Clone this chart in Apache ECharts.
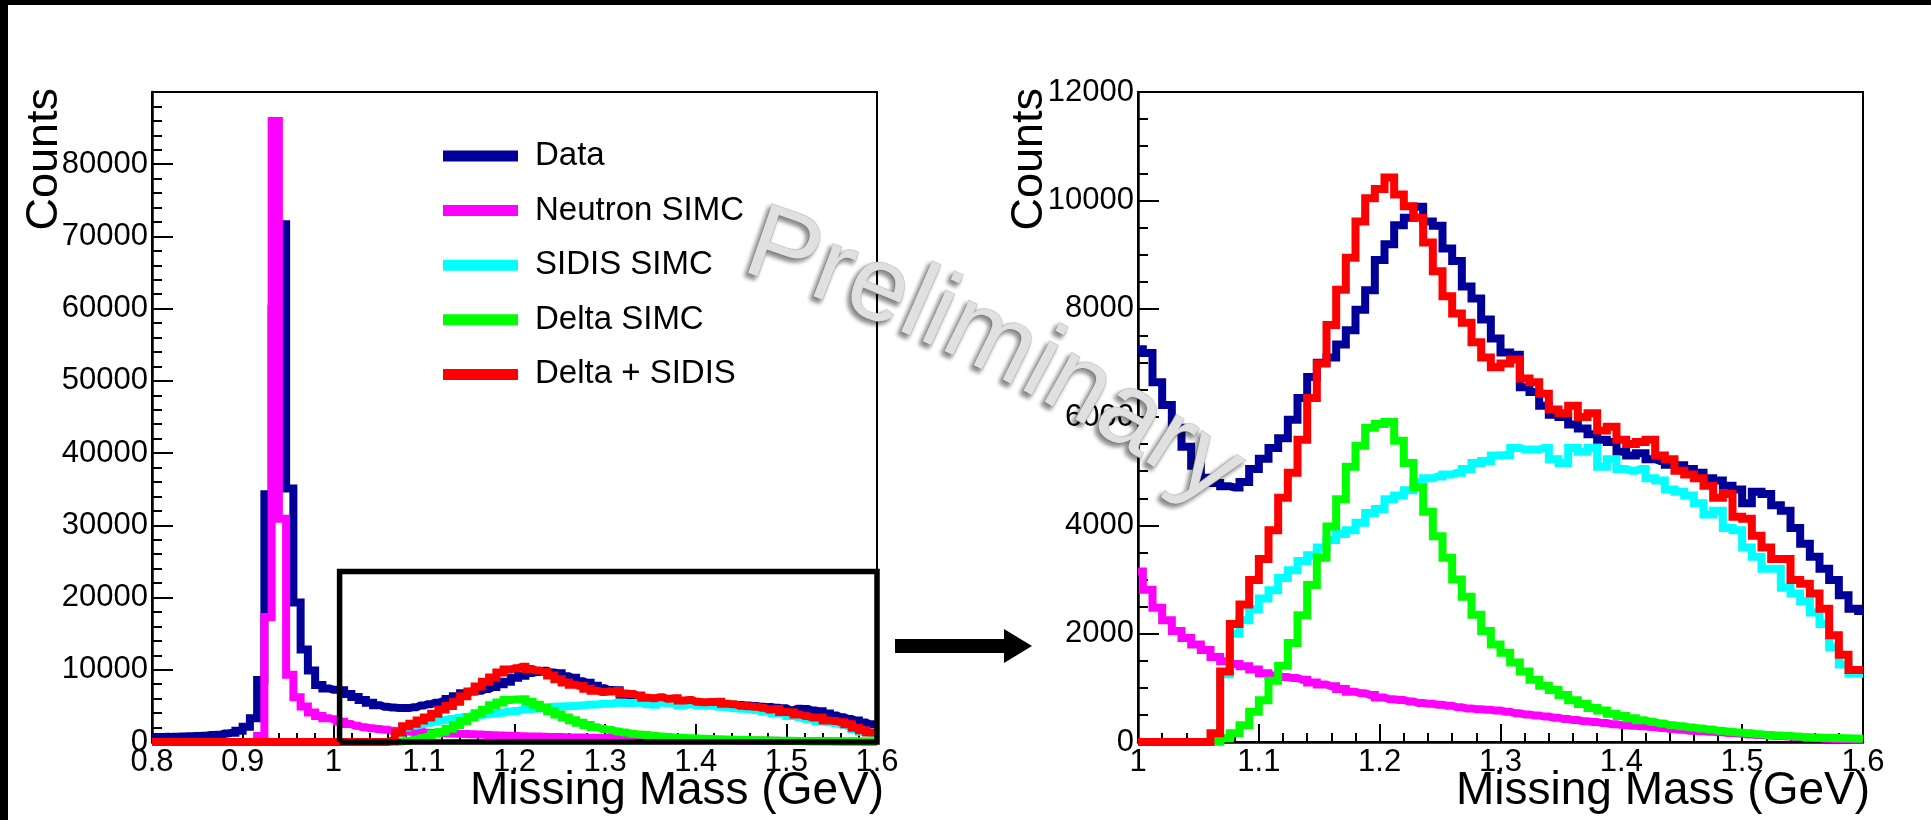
<!DOCTYPE html>
<html>
<head>
<meta charset="utf-8">
<title>Missing Mass</title>
<script src="https://cdn.jsdelivr.net/npm/echarts@6/dist/echarts.min.js"></script>
<style>
  html, body { margin: 0; padding: 0; background: #ffffff; }
  #chart { width: 1931px; height: 820px; }
</style>
</head>
<body>
<div id="chart"></div>
<script>
// Histogram binning: bin centres from 0.800 GeV in steps of 0.008 GeV (101 bins)
const binStart = 0.8;
const binWidth = 0.008;

// Counts per bin, one array per histogram
const dataCounts = [
  690, 700, 710, 730, 750, 790, 830, 870, 960, 1020,
  1180, 1270, 1570, 2120, 3280, 8600, 34300, 60000, 71700, 35100,
  19300, 12800, 9900, 7900, 7400,
  7250, 7180, 6640, 6220, 5800, 5450, 5100, 4880, 4780, 4720,
  4700, 4800, 5040, 5230, 5430, 5610, 5950, 6350, 6740, 7000,
  7100, 7340, 7600, 7980, 8340, 8900, 9190, 9540, 9680, 9880,
  9610, 9530, 9110, 8880, 8410, 8190, 7800, 7450, 7190, 7150,
  6550, 6460, 6210, 6040, 6000, 5860, 5790, 5680, 5580, 5540,
  5360, 5290, 5330, 5220, 5190, 5120, 5110, 5040, 4970, 4870,
  4830, 4730, 4660, 4410, 4620, 4580, 4370, 4270, 3950, 3660,
  3420, 3200, 2990, 2710, 2460, 2420
];

const neutronSimc = [
  0, 0, 0, 0, 0, 0, 0, 0, 0, 0,
  0, 0, 0, 0, 0, 830, 17300, 86000, 30900, 9300,
  6200, 4900, 4100, 3600, 3300,
  3150, 2810, 2480, 2250, 2050, 1920, 1800, 1700, 1570, 1490,
  1440, 1400, 1340, 1270, 1230, 1200, 1180, 1150, 1100, 1060,
  1030, 980, 930, 900, 870, 820, 790, 775, 750, 720,
  705, 690, 670, 640, 620, 605, 595, 580, 560, 530,
  510, 490, 470, 450, 425, 405, 385, 370, 350, 330,
  315, 300, 290, 275, 260, 240, 225, 210, 200, 190,
  180, 165, 155, 140, 130, 120, 110, 100, 90, 80,
  70, 60, 55, 50, 45, 40
];

const sidisSimc = [
  0, 0, 0, 0, 0, 0, 0, 0, 0, 0,
  0, 0, 0, 0, 0, 0, 0, 0, 0, 0,
  0, 0, 0, 0, 0,
  0, 0, 0, 0, 0, 0, 0, 0, 0, 1250,
  2000, 2250, 2450, 2650, 2800, 3030, 3170, 3340, 3450, 3590,
  3730, 3840, 3910, 4050, 4230, 4300, 4480, 4550, 4650, 4800,
  4870, 4900, 4940, 4970, 5040, 5150, 5190, 5290, 5300, 5430,
  5400, 5400, 5430, 5220, 5150, 5430, 5360, 5430, 5080, 5220,
  5040, 5010, 5040, 4870, 4830, 4660, 4620, 4550, 4410, 4200,
  4270, 3950, 3910, 3590, 3420, 3200, 3200, 2850, 2740, 2600,
  2390, 2180, 1750, 1430, 1260, 1260
];

const deltaSimc = [
  0, 0, 0, 0, 0, 0, 0, 0, 0, 0,
  0, 0, 0, 0, 0, 0, 0, 0, 0, 0,
  0, 0, 0, 0, 0,
  0, 0, 0, 0, 0, 0, 0, 0, 20, 70,
  160, 310, 560, 770, 1130, 1410, 1830, 2340, 2900, 3400,
  3980, 4480, 5080, 5470, 5800, 5870, 5910, 5560, 5150, 4700,
  4250, 3800, 3400, 3000, 2680, 2350, 2050, 1800, 1650, 1470,
  1300, 1150, 1040, 960, 870, 770, 700, 630, 580, 520,
  480, 440, 400, 370, 340, 310, 290, 270, 250, 230,
  210, 190, 175, 160, 145, 130, 120, 110, 100, 90,
  85, 80, 75, 70, 65, 60
];

const deltaPlusSidis = [
  0, 0, 0, 0, 0, 0, 0, 0, 0, 0,
  0, 0, 0, 0, 0, 0, 0, 0, 0, 0,
  0, 0, 0, 0, 0,
  0, 0, 0, 0, 0, 0, 0, 0, 160, 1300,
  2180, 2540, 2990, 3380, 3910, 4510, 4970, 5580, 6350, 6990,
  7700, 8350, 8940, 9610, 10040, 10210, 10420, 10110, 9890, 9680,
  9220, 8690, 8230, 7910, 7740, 7380, 7100, 6920, 6990, 7060,
  6710, 6640, 6430, 6140, 6070, 6210, 6000, 6070, 5750, 5820,
  5580, 5500, 5540, 5580, 5290, 5220, 5010, 4940, 4870, 4730,
  4510, 4580, 4160, 4120, 3810, 3590, 3380, 3380, 2990, 2920,
  2740, 2460, 1970, 1610, 1330, 1330
];

const legendNames = ['Data', 'Neutron SIMC', 'SIDIS SIMC', 'Delta SIMC', 'Delta + SIDIS'];
const histColors = ['#000099', '#ff00ff', '#00ffff', '#00ff00', '#ff0000'];
const histValues = [dataCounts, neutronSimc, sidisSimc, deltaSimc, deltaPlusSidis];

// Zoom window outlined on the full-range panel (mass, counts)
const zoomWindowMass = [1.007, 1.6];
const zoomWindowCounts = [0, 23600];

const massBins = dataCounts.map((_, i) => +(binStart + i * binWidth).toFixed(3));

const FONT = '"Liberation Sans", Arial, Helvetica, sans-serif';
const TICK_FONT_SIZE = 31;

function histData(values, fromMass) {
  return massBins
    .map((m, i) => [m, values[i]])
    .filter(p => p[0] >= fromMass - 1e-9);
}

function massAxis(gridIndex, min, max) {
  return {
    type: 'value', gridIndex, min, max, interval: 0.1,
    axisLine: { show: true, onZero: false, lineStyle: { color: '#000', width: 2.5 } },
    axisTick: { show: true, inside: true, length: 18, lineStyle: { color: '#000', width: 2 } },
    minorTick: { show: true, splitNumber: 5, length: 9, lineStyle: { color: '#000', width: 2 } },
    splitLine: { show: false }, minorSplitLine: { show: false },
    axisLabel: {
      show: true, margin: 5, color: '#000', fontSize: TICK_FONT_SIZE, fontFamily: FONT,
      showMinLabel: true, showMaxLabel: true,
      formatter: v => String(Math.round(v * 10) / 10)
    }
  };
}

function countsAxis(gridIndex, max, interval, minorSplit, showMax) {
  return {
    type: 'value', gridIndex, min: 0, max, interval,
    axisLine: { show: true, onZero: false, lineStyle: { color: '#000', width: 2.5 } },
    axisTick: { show: true, inside: true, length: 21, lineStyle: { color: '#000', width: 2 } },
    minorTick: { show: true, splitNumber: minorSplit, length: 10, lineStyle: { color: '#000', width: 2 } },
    splitLine: { show: false }, minorSplitLine: { show: false },
    axisLabel: {
      show: true, margin: 4, color: '#000', fontSize: TICK_FONT_SIZE, fontFamily: FONT,
      showMinLabel: true, showMaxLabel: showMax,
      formatter: v => String(Math.round(v))
    }
  };
}

const series = [];
[[0, binStart], [1, 1.0]].forEach(([panel, fromMass]) => {
  legendNames.forEach((name, i) => {
    series.push({
      type: 'line', name,
      xAxisIndex: panel, yAxisIndex: panel,
      data: histData(histValues[i], fromMass),
      step: 'middle',
      symbol: 'none', showSymbol: false,
      color: histColors[i],
      itemStyle: { color: histColors[i] },
      lineStyle: { color: histColors[i], width: 8, join: 'miter', cap: 'butt' },
      emphasis: { disabled: true },
      silent: true, animation: false,
      z: 2 + i
    });
  });
});

// Outline of the zoomed region
series.push({
  type: 'line', name: 'zoom window',
  xAxisIndex: 0, yAxisIndex: 0,
  data: [
    [zoomWindowMass[0], zoomWindowCounts[0]],
    [zoomWindowMass[0], zoomWindowCounts[1]],
    [zoomWindowMass[1], zoomWindowCounts[1]],
    [zoomWindowMass[1], zoomWindowCounts[0]],
    [zoomWindowMass[0], zoomWindowCounts[0]]
  ],
  symbol: 'none', showSymbol: false, clip: false,
  lineStyle: { color: '#000', width: 5.5, join: 'miter' },
  emphasis: { disabled: true }, silent: true, animation: false, z: 20
});

const grids = [
  { left: 152, top: 92, width: 725, height: 650 },
  { left: 1138, top: 92, width: 725, height: 650 }
];

const axisTitles = [];
grids.forEach((g, idx) => {
  // vertical counts title, ends at the top of the frame
  axisTitles.push({
    type: 'text', z: 50,
    x: idx === 0 ? 45 : 1030, y: 88, rotation: Math.PI / 2,
    style: { text: 'Counts', fontSize: 45, fontFamily: FONT, fill: '#000', align: 'right', verticalAlign: 'middle' }
  });
  // mass title, right-aligned under the axis
  axisTitles.push({
    type: 'text', z: 50,
    x: g.left + g.width + 7, y: 791,
    style: { text: 'Missing Mass (GeV)', fontSize: 46, fontFamily: FONT, fill: '#000', align: 'right', verticalAlign: 'middle' }
  });
});

// "Preliminary" stamp, set letter by letter along a gently bending baseline
function stampLetters(word, fontSize, start, angleFrom, angleTo) {
  const ctx = document.createElement('canvas').getContext('2d');
  ctx.font = fontSize + 'px ' + FONT;
  const total = ctx.measureText(word).width;
  const angleAt = s => angleFrom + (angleTo - angleFrom) * s / total;
  const pointAt = s => {
    let x = start[0], y = start[1];
    const step = 1;
    for (let t = 0; t < s; t += step) {
      const a = angleAt(t + step / 2);
      const d = Math.min(step, s - t);
      x += Math.cos(a) * d;
      y += Math.sin(a) * d;
    }
    return [x, y];
  };
  const out = [];
  let s = 0;
  for (const ch of word) {
    const w = ctx.measureText(ch).width;
    const mid = s + w / 2;
    const a = angleAt(mid);
    const p = pointAt(mid);
    const lift = 0.33 * fontSize;
    out.push({
      type: 'text', z: 100,
      x: p[0] + Math.sin(a) * lift, y: p[1] - Math.cos(a) * lift,
      rotation: -a,
      style: {
        text: ch, fontSize, fontFamily: FONT,
        fill: '#e0e0e0', stroke: '#cacaca', lineWidth: 1.5,
        align: 'center', verticalAlign: 'middle',
        textShadowColor: 'rgba(0,0,0,0.45)', textShadowBlur: 4,
        textShadowOffsetX: -3, textShadowOffsetY: 3
      }
    });
    s += w;
  }
  return out;
}

const stamp = stampLetters('Preliminary', 106, [738, 276], 18 * Math.PI / 180, 35 * Math.PI / 180);

const chart = echarts.init(document.getElementById('chart'), null, { renderer: 'canvas', width: 1931, height: 820 });

chart.setOption({
  backgroundColor: '#ffffff',
  animation: false,
  grid: grids.map(g => Object.assign({
    show: true, borderColor: '#000', borderWidth: 2, backgroundColor: 'transparent',
    containLabel: false, outerBoundsMode: 'none'
  }, g)),
  xAxis: [massAxis(0, 0.8, 1.6), massAxis(1, 1.0, 1.6)],
  yAxis: [countsAxis(0, 90000, 10000, 5, false), countsAxis(1, 12000, 2000, 4, true)],
  legend: {
    show: true, orient: 'vertical', left: 443, top: 136, padding: 0,
    itemWidth: 75, itemHeight: 11, itemGap: 14.6, icon: 'rect',
    selectedMode: false, data: legendNames,
    textStyle: { color: '#000', fontSize: 33, fontFamily: FONT, lineHeight: 40, padding: [0, 0, 0, 12] }
  },
  series,
  graphic: [
    // black edges of the canvas
    { type: 'rect', z: 60, shape: { x: 0, y: 0, width: 1931, height: 5 }, style: { fill: '#000' } },
    { type: 'rect', z: 60, shape: { x: 0, y: 0, width: 8, height: 820 }, style: { fill: '#000' } },
    // arrow pointing to the zoomed panel
    {
      type: 'polygon', z: 50,
      shape: { points: [[895, 639], [1004, 639], [1004, 629], [1032, 646], [1004, 663], [1004, 653], [895, 653]] },
      style: { fill: '#000' }
    },
    ...axisTitles,
    ...stamp
  ]
});
</script>
</body>
</html>
